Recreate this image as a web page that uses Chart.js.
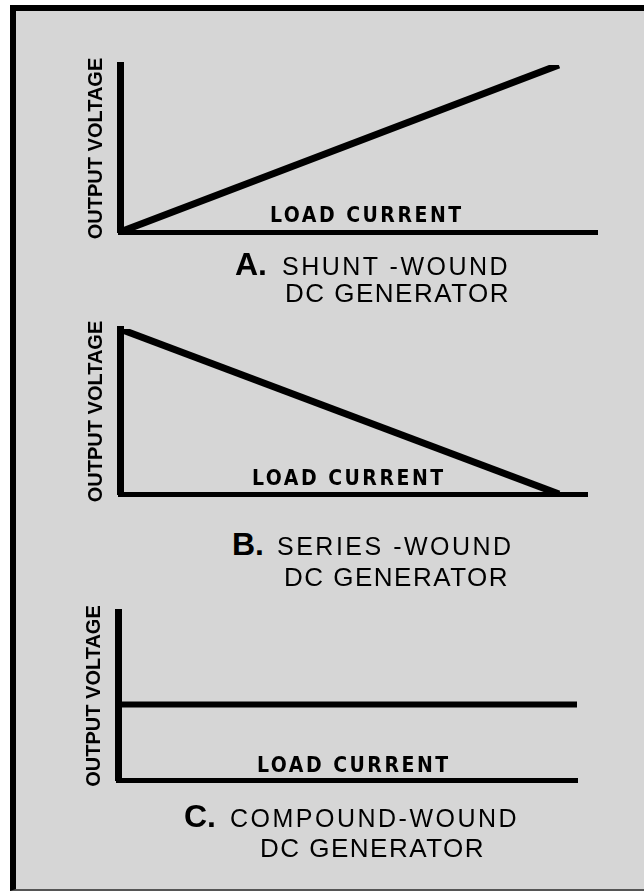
<html>
<head>
<style>
  body { margin: 0; background: #fff; width: 644px; height: 894px; overflow: hidden; position: relative; }
  #frame { position: absolute; left: 10px; top: 5px; width: 640px; height: 878px;
           border-left: 6px solid #000; border-top: 6px solid #000; border-bottom: 2px solid #555;
           background: #d6d6d6; }
  canvas { position: absolute; left: 0; }
  .cap { position: absolute; font-family: 'Liberation Sans', Arial, sans-serif; color: #000; line-height: 1; white-space: nowrap; }
  .big { font-size: 32px; font-weight: bold; }
  .l1 { font-size: 25px; letter-spacing: 2.5px; }
  .l2 { font-size: 26px; letter-spacing: 1.5px; }
</style>
</head>
<body>
  <div id="frame"></div>
  <canvas id="chartA" width="644" height="210" style="top:40px"></canvas>
  <canvas id="chartB" width="644" height="215" style="top:300px"></canvas>
  <canvas id="chartC" width="644" height="220" style="top:580px"></canvas>

  <div class="cap big" style="left:235px; top:248px">A.</div>
  <div class="cap l1" style="left:282px; top:254px">SHUNT -WOUND</div>
  <div class="cap l2" style="left:285px; top:280px">DC GENERATOR</div>

  <div class="cap big" style="left:232px; top:528px">B.</div>
  <div class="cap l1" style="left:277px; top:534px">SERIES -WOUND</div>
  <div class="cap l2" style="left:284px; top:564px">DC GENERATOR</div>

  <div class="cap big" style="left:184px; top:800px">C.</div>
  <div class="cap l1" style="left:230px; top:806px">COMPOUND-WOUND</div>
  <div class="cap l2" style="left:260px; top:835px">DC GENERATOR</div>

<script src="https://cdn.jsdelivr.net/npm/chart.js@4.4.1/dist/chart.umd.min.js"></script>
<script>
// load current (x) vs output voltage (y)
const shuntX = [0, 9.2];
const shuntY = [0, 10];
const seriesX = [0, 9.4];
const seriesY = [10, 0];
const compoundX = [0, 10];
const compoundY = [4.5, 4.5];

const yTitle = 'OUTPUT VOLTAGE';
const xTitle = 'LOAD CURRENT';

// draws the "LOAD CURRENT" label inside the plot, just above the x axis
const loadLabel = {
    id: 'loadLabel',
    afterDraw(chart, args, opts) {
        const ctx = chart.ctx;
        const area = chart.chartArea;
        ctx.save();
        ctx.font = 'bold 21px "Liberation Sans Narrow", "DejaVu Sans Condensed", sans-serif';
        ctx.letterSpacing = '2.5px';
        ctx.fillStyle = '#000';
        ctx.textBaseline = 'alphabetic';
        ctx.fillText(opts.text, area.left + opts.dx, area.bottom - opts.dy);
        ctx.restore();
    }
};

function makeChart(id, xs, ys, o) {
    const pts = xs.map((x, i) => ({ x: x, y: ys[i] }));
    return new Chart(document.getElementById(id), {
        type: 'line',
        data: {
            datasets: [{
                data: pts,
                borderColor: '#000',
                borderWidth: o.lineWidth,
                pointRadius: 0,
                borderCapStyle: 'butt',
                tension: 0
            }]
        },
        options: {
            responsive: false,
            animation: false,
            events: [],
            layout: { padding: o.pad },
            plugins: {
                legend: { display: false },
                tooltip: { enabled: false },
                loadLabel: { text: xTitle, dx: o.labelDx, dy: o.labelDy }
            },
            scales: {
                x: {
                    type: 'linear', min: 0, max: 10,
                    grid: { display: false },
                    ticks: { display: false },
                    border: { display: true, color: '#000', width: 5 },
                    afterFit: s => { s.height = 0; }
                },
                y: {
                    min: 0, max: 10,
                    grid: { display: false },
                    ticks: { display: false },
                    border: { display: true, color: '#000', width: 7 },
                    title: {
                        display: true, text: yTitle, color: '#000',
                        font: { family: '"Liberation Sans", Arial, sans-serif', size: 20, weight: 'bold' }
                    },
                    afterFit: s => { s.width = 40; }
                }
            }
        },
        plugins: [loadLabel]
    });
}

makeChart('chartA', shuntX, shuntY, {
    pad: { left: 80, right: 47, top: 25, bottom: 18 }, lineWidth: 7, labelDx: 150, labelDy: 10
});
makeChart('chartB', seriesX, seriesY, {
    pad: { left: 80, right: 57, top: 29, bottom: 21 }, lineWidth: 7, labelDx: 132, labelDy: 9
});
makeChart('chartC', compoundX, compoundY, {
    pad: { left: 78, right: 67, top: 32, bottom: 20 }, lineWidth: 6, labelDx: 139, labelDy: 8
});
</script>
</body>
</html>
